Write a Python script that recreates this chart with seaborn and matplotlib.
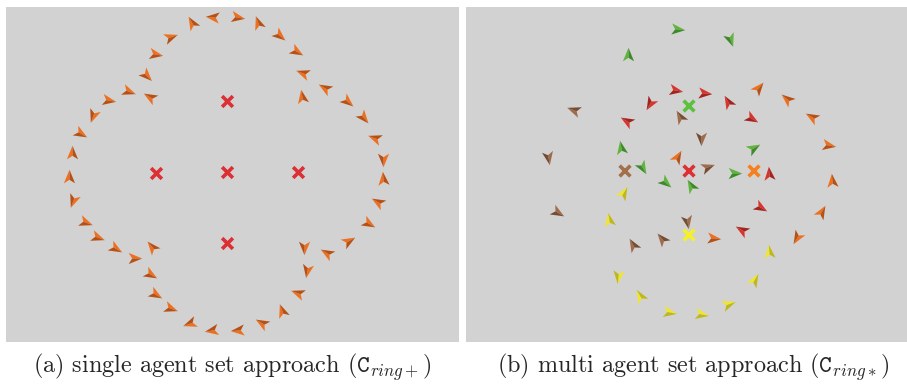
"""
Agent ring formations: single agent set vs. multi agent set approach.
Agents drawn as two-tone arrowheads, goal points as crosses.
"""

import numpy as np
import pandas as pd
import matplotlib.pyplot as plt
import seaborn as sns
from matplotlib.markers import MarkerStyle
from matplotlib.path import Path
from matplotlib.transforms import Affine2D

# ---- (a) single agent set, positions in picture pixels, heading in degrees
left_x = [192, 213, 237, 258, 279, 296, 303, 302, 325, 347, 363, 375, 383, 383, 378,
          368, 348, 327, 304, 307, 298, 282, 262, 238, 212, 190, 170, 155, 150, 134,
          152, 115, 97, 85, 73, 69, 72, 80, 93, 108, 128, 150, 146, 155, 170]
left_y = [23, 17, 17, 23, 35, 51, 73, 97, 88, 101, 117, 138, 159, 179, 202,
          223, 241, 253, 247, 270, 293, 311, 323, 330, 330, 323, 308, 294, 274, 258,
          247, 248, 237, 222, 200, 177, 153, 133, 115, 100, 91, 97, 75, 54, 37]
left_heading = [120, 175, -10, 110, -40, -30, 160, 100, 150, -40, -50, 160, -90, 95, 150,
                -30, 30, 150, -90, -100, 160, 110, 150, 185, 190, 200, -20, -30, -30, 0,
                130, -30, -20, -20, -110, 90, 90, -30, -110, -10, -20, 150, -45, -10, 20]
left_goal_x = [227, 156, 227, 298, 227]
left_goal_y = [101, 173, 172, 172, 243]

# ---- (b) multi agent set, five sets of nine agents
sets = ["green", "red", "brown", "orange", "yellow"]
green_x = [677, 730, 628, 621, 642, 665, 691, 734, 753]
green_y = [29, 39, 55, 148, 167, 182, 186, 173, 148]
green_heading = [-5, -70, 90, 100, -60, -40, 120, 0, 30]
red_x = [675, 704, 728, 650, 627, 751, 769, 760, 742]
red_y = [90, 93, 102, 103, 121, 118, 174, 207, 230]
red_heading = [-10, -5, 120, 240, 150, -30, 95, -30, 150]
brown_x = [574, 680, 701, 548, 707, 557, 687, 662, 633]
brown_y = [110, 117, 138, 157, 167, 212, 221, 239, 245]
brown_heading = [160, 120, -90, -80, 20, -30, -80, 130, 120]
orange_x = [758, 787, 812, 828, 832, 821, 797, 713, 677]
orange_y = [88, 99, 117, 145, 181, 212, 237, 238, 157]
orange_heading = [50, 140, 150, -10, 95, 60, -120, -5, 60]
yellow_x = [623, 609, 769, 618, 754, 640, 669, 701, 728]
yellow_y = [193, 220, 252, 276, 280, 296, 312, 314, 304]
yellow_heading = [60, 100, 95, -95, 60, 120, -10, -10, 20]
right_goal_x = [689, 689, 625, 754, 689]
right_goal_y = [106, 171, 171, 171, 235]
right_goal_set = ["green", "red", "brown", "orange", "yellow"]

# light / dark shade of each set, plus goal colour
shades = {
    "orange": ("#ec7020", "#b65015"),
    "green": ("#5fb43c", "#3e8a28"),
    "red": ("#d8342e", "#a3241f"),
    "brown": ("#9e6c4a", "#764c32"),
    "yellow": ("#efe62e", "#bfb71e"),
}
goal_colors = {"green": "#5cc040", "red": "#dc3034", "brown": "#a3704c",
               "orange": "#f5801f", "yellow": "#f4f02c"}
BG = "#d2d2d2"


def arrow_halves(angle):
    # arrowhead pointing along +x, split at the notch into two triangles
    tip, top, notch, bot = (1.0, 0.0), (-0.75, 0.72), (-0.3, 0.0), (-0.75, -0.72)
    codes = [Path.MOVETO, Path.LINETO, Path.LINETO, Path.CLOSEPOLY]
    rot = Affine2D().rotate_deg(angle)
    upper = MarkerStyle(Path([tip, top, notch, tip], codes), transform=rot)
    lower = MarkerStyle(Path([tip, notch, bot, tip], codes), transform=rot)
    return upper, lower


def draw_agents(ax, xs, ys, headings, set_name):
    light, dark = shades[set_name]
    for x, y, h in zip(xs, ys, headings):
        upper, lower = arrow_halves(h)
        ax.scatter([x], [y], marker=upper, s=125, color=light, linewidths=0, zorder=3)
        ax.scatter([x], [y], marker=lower, s=125, color=dark, linewidths=0, zorder=3)


def style_panel(ax, xlim):
    ax.set_facecolor(BG)
    ax.set_xlim(*xlim)
    ax.set_ylim(342, 7)
    ax.set_xticks([])
    ax.set_yticks([])
    for sp in ax.spines.values():
        sp.set_visible(False)


sns.set_theme(style="white")
plt.rcParams["font.family"] = ["cmr10", "DejaVu Serif"]
plt.rcParams["mathtext.fontset"] = "cm"
plt.rcParams["axes.unicode_minus"] = False

fig = plt.figure(figsize=(9.07, 3.85), dpi=100)
ax_a = fig.add_axes([6 / 907, 43 / 385, 453 / 907, 335 / 385])
ax_b = fig.add_axes([466 / 907, 43 / 385, 441 / 907, 335 / 385])

# (a)
style_panel(ax_a, (6, 459))
draw_agents(ax_a, left_x, left_y, left_heading, "orange")
sns.scatterplot(x=left_goal_x, y=left_goal_y, marker="x", s=60, linewidth=2.6,
                color=goal_colors["red"], ax=ax_a, zorder=2)
style_panel(ax_a, (6, 459))

# (b)
style_panel(ax_b, (466, 907))
agents = {
    "green": (green_x, green_y, green_heading),
    "red": (red_x, red_y, red_heading),
    "brown": (brown_x, brown_y, brown_heading),
    "orange": (orange_x, orange_y, orange_heading),
    "yellow": (yellow_x, yellow_y, yellow_heading),
}
for name in sets:
    xs, ys, hs = agents[name]
    draw_agents(ax_b, xs, ys, hs, name)
goals = pd.DataFrame({"x": right_goal_x, "y": right_goal_y, "set": right_goal_set})
sns.scatterplot(data=goals, x="x", y="y", hue="set", palette=goal_colors, marker="x",
                s=60, linewidth=2.6, legend=False, ax=ax_b, zorder=2)
style_panel(ax_b, (466, 907))

fig.text(232 / 907, 1 - 373 / 385, r"(a) single agent set approach ($\mathtt{C}_{ring+}$)",
         ha="center", va="baseline", fontsize=17.4)
fig.text(693 / 907, 1 - 373 / 385, r"(b) multi agent set approach ($\mathtt{C}_{ring*}$)",
         ha="center", va="baseline", fontsize=17.4)

fig.savefig("out.png", dpi=100, facecolor="white")
